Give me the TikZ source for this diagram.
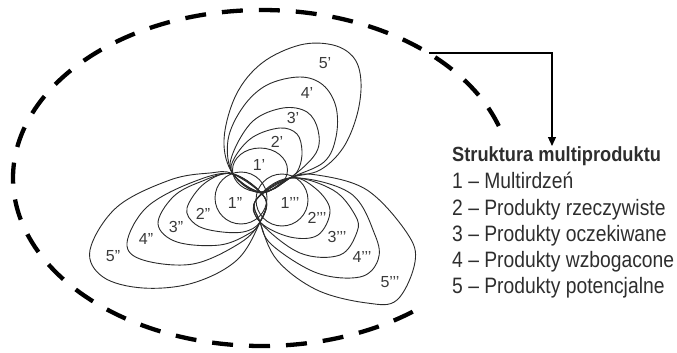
\documentclass[tikz,border=0pt]{standalone}
\usepackage{fontspec}
\usetikzlibrary{arrows.meta}
\newfontfamily\labfont{Liberation Sans}
\newfontfamily\legfont[FakeStretch=0.865]{Liberation Sans}
\newfontfamily\titfont[FakeStretch=0.89]{Liberation Sans}
\definecolor{petal}{HTML}{2A2A2A}
\definecolor{labc}{HTML}{3A3A3A}
\definecolor{legc}{HTML}{2E2E2E}
\tikzset{
  petalline/.style={draw=petal, line width=0.9pt},
  plabel/.style={text=labc, font=\labfont\fontsize{16}{18}\selectfont, inner sep=0pt},
  legitem/.style={text=legc, font=\legfont\fontsize{22.3}{26}\selectfont, inner sep=0pt, anchor=base west},
  legtitle/.style={text=legc, font=\titfont\bfseries\fontsize{20.5}{25}\selectfont, inner sep=0pt, anchor=base west},
  dashell/.style={line width=4.3pt, dash pattern=on 21pt off 16pt},
}
\begin{document}
\begin{tikzpicture}[x=1pt,y=-1pt]
\useasboundingbox (0,0) rectangle (677,353);
% dashed ellipse (partially hidden by legend)
\draw[dashell] plot[domain=18:310, samples=300, variable=\t] ({262+249*cos(\t)},{178-168*sin(\t)});
% top petals
\draw[petalline] (260,170) ellipse [x radius=27.5, y radius=22];
\draw[petalline] plot[smooth cycle, tension=0.6] coordinates {(233,174) (235,157) (253,137) (280,128) (297,134) (302,151) (299,168) (290,178) (261,192)};
\draw[petalline] plot[smooth cycle, tension=0.6] coordinates {(233,174) (233,153) (253,121) (283,108) (307,112) (318,130) (316,153) (290,178) (261,192)};
\draw[petalline] plot[smooth cycle, tension=0.6] coordinates {(233,174) (228,140) (243,107) (267,85) (300,77) (323,85) (336,107) (336,137) (324,162) (290,178) (261,193)};
\draw[petalline] plot[smooth cycle, tension=0.6] coordinates {(233,174) (224,140) (236,95) (262,63) (300,45) (333,45) (354,58) (361,82) (357,115) (343,148) (320,170) (290,178) (261,193)};
% left petals
\draw[petalline] (241,198) circle [radius=26];
\draw[petalline] plot[smooth cycle, tension=0.6] coordinates {(233,174) (205,183) (187,208) (195,224) (215,231) (243,232) (260,222) (265,198)};
\draw[petalline] plot[smooth cycle, tension=0.6] coordinates {(233,174) (200,182) (173,197) (158,224) (177,242) (220,245) (250,233) (260,222) (265,198)};
\draw[petalline] plot[smooth cycle, tension=0.6] coordinates {(233,174) (193,182) (147,207) (127,243) (143,260) (193,264) (240,243) (260,222) (265,198)};
\draw[petalline] plot[smooth cycle, tension=0.6] coordinates {(233,174) (210,173) (170,180) (117,207) (90,250) (103,277) (143,288) (193,283) (237,260) (260,222) (265,198)};
% right petals
\draw[petalline] (282,200) circle [radius=26];
\draw[petalline] plot[smooth cycle, tension=0.6] coordinates {(290,178) (315,188) (330,210) (318,235) (290,237) (260,222) (256,200)};
\draw[petalline] plot[smooth cycle, tension=0.6] coordinates {(290,178) (333,190) (355,215) (357,232) (340,255) (300,253) (260,222) (256,200)};
\draw[petalline] plot[smooth cycle, tension=0.6] coordinates {(290,178) (350,193) (375,235) (378,260) (360,277) (317,273) (272,245) (260,222) (256,200)};
\draw[petalline] plot[smooth cycle, tension=0.6] coordinates {(290,178) (317,175) (367,190) (407,233) (415,262) (397,300) (367,303) (317,290) (277,260) (260,222) (256,200)};
% petal labels
\node[plabel] (t1) at (259,165) {1’};
\node[plabel] (t2) at (277,142) {2’};
\node[plabel] (t3) at (293,118) {3’};
\node[plabel] (t4) at (307,93) {4’};
\node[plabel] (t5) at (325,63) {5’};
\node[plabel] (l1) at (235,203) {1”};
\node[plabel] (l2) at (203,214) {2”};
\node[plabel] (l3) at (176,227) {3”};
\node[plabel] (l4) at (146,239) {4”};
\node[plabel] (l5) at (113,256) {5”};
\node[plabel] (r1) at (290,203) {1’’’};
\node[plabel] (r2) at (317,218) {2’’’};
\node[plabel] (r3) at (337,237) {3’’’};
\node[plabel] (r4) at (362,257) {4’’’};
\node[plabel] (r5) at (390,282) {5’’’};
% legend
\node[legtitle] (title) at (452,161) {Struktura multiproduktu};
\node[legitem] (i1) at (452,188) {1 – Multirdzeń};
\node[legitem] (i2) at (452,215) {2 – Produkty rzeczywiste};
\node[legitem] (i3) at (452,241) {3 – Produkty oczekiwane};
\node[legitem] (i4) at (452,267.5) {4 – Produkty wzbogacone};
\node[legitem] (i5) at (452,293.5) {5 – Produkty potencjalne};
% arrow
\coordinate (arrstart) at (429,53);
\coordinate (arrtip) at (552,146);
\draw[line width=1.1pt, -{Triangle[length=9pt,width=8pt]}] (arrstart) -| (arrtip);
\end{tikzpicture}
\end{document}
